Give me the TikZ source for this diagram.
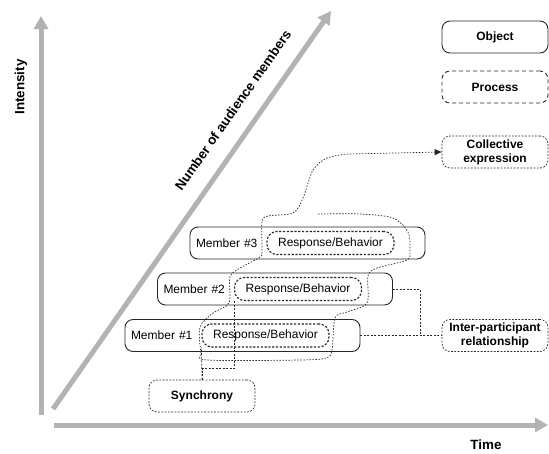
\documentclass[tikz,border=0pt]{standalone}
\usepackage{fontspec}
\setmainfont{Liberation Sans}
\usetikzlibrary{arrows.meta}
\definecolor{axisgray}{RGB}{179,179,179}
\definecolor{linegray}{RGB}{40,40,40}
\tikzset{
  axis/.style={line width=5pt, draw=axisgray, -{Triangle[width=14pt,length=13pt]}},
  axislabel/.style={font=\fontsize{13.4}{16}\selectfont\bfseries},
  object/.style={draw=linegray, line width=0.9pt, rounded corners=8pt, minimum width=106pt, minimum height=32pt, font=\fontsize{12}{14}\selectfont\bfseries, align=center},
  process/.style={object, dash pattern=on 4pt off 3pt},
  procdot/.style={object, line width=0.7pt, dash pattern=on 1.8pt off 1.5pt},
  member/.style={draw=linegray, line width=0.9pt, rounded corners=8pt, text width=223pt, inner xsep=6pt, minimum height=32pt, align=left, font=\fontsize{12}{14}\selectfont},
  response/.style={draw=linegray, line width=1.1pt, dash pattern=on 2.2pt off 1.6pt, rounded corners=10pt, minimum width=127pt, minimum height=23pt, font=\fontsize{12}{14}\selectfont},
  link/.style={draw=linegray, line width=0.7pt, dash pattern=on 2pt off 1.5pt},
  flow/.style={link, dash pattern=on 1.5pt off 1.5pt, -{Triangle[width=6pt,length=7pt]}}
}
\begin{document}
\begin{tikzpicture}[x=1pt,y=-1pt]
		\useasboundingbox (0,0) rectangle (549,453);
		% axes
		\coordinate (o1) at (41,415);
		\coordinate (o2) at (53,409);
		\coordinate (o3) at (54,425);
		\draw[axis] (o1) -- (41,16);
		\draw[axis] (o2) -- (331,11);
		\draw[axis] (o3) -- (548,425);
		\node (int) at (21,87) [axislabel, rotate=90] {Intensity};
		\node (num) at (233,110) [axislabel, rotate=55] {Number of audience members};
		\node (time) at (486,445) [axislabel] {Time};
		% legend and processes
		\node (obj) at (495,37) [object] {Object};
		\node (proc) at (495,87) [process] {Process};
		\node (ce) at (495,152) [procdot] {Collective\\expression};
		\node (ip) at (495,335.5) [procdot] {Inter-participant\\relationship};
		\node (sync) at (202,396) [procdot] {Synchrony};
		% members
		\node (m3) at (307.5,243) [member] {Member \#3};
		\node (m2) at (275,289) [member] {Member \#2};
		\node (m1) at (242.5,335.5) [member] {Member \#1};
		\node (rb3) at (330.5,243) [response] {Response/Behavior};
		\node (rb2) at (298,289) [response] {Response/Behavior};
		\node (rb1) at (265.5,335.5) [response] {Response/Behavior};
		% connectors
		\draw[link] (m2.east) -- ++(27,0) |- (ip.west);
		\draw[link] (m1.east) -- (ip.west);
		\draw[link] (sync.north) -- (rb1.south west);
		\draw[link] (sync.north) -- ++(0,-11) -| (rb2.south west);
		\draw[flow] plot[smooth, tension=0.5] coordinates {
			(318,214) (360,214) (393,218) (408,232) (410,250) (407,260)
			(377,268) (368,276) (367,303) (347,312) (335,318) (332,350)
			(326,358) (300,360) (207,360) (201,352) (200,327) (213,313)
			(229,303) (230,277) (240,268) (260,257) (262,250) (262,222)
			(268,216) (293,213) (303,198) (313,170) (327,158) (347,154)
		} -- (ce.west);
	\end{tikzpicture}
\end{document}
